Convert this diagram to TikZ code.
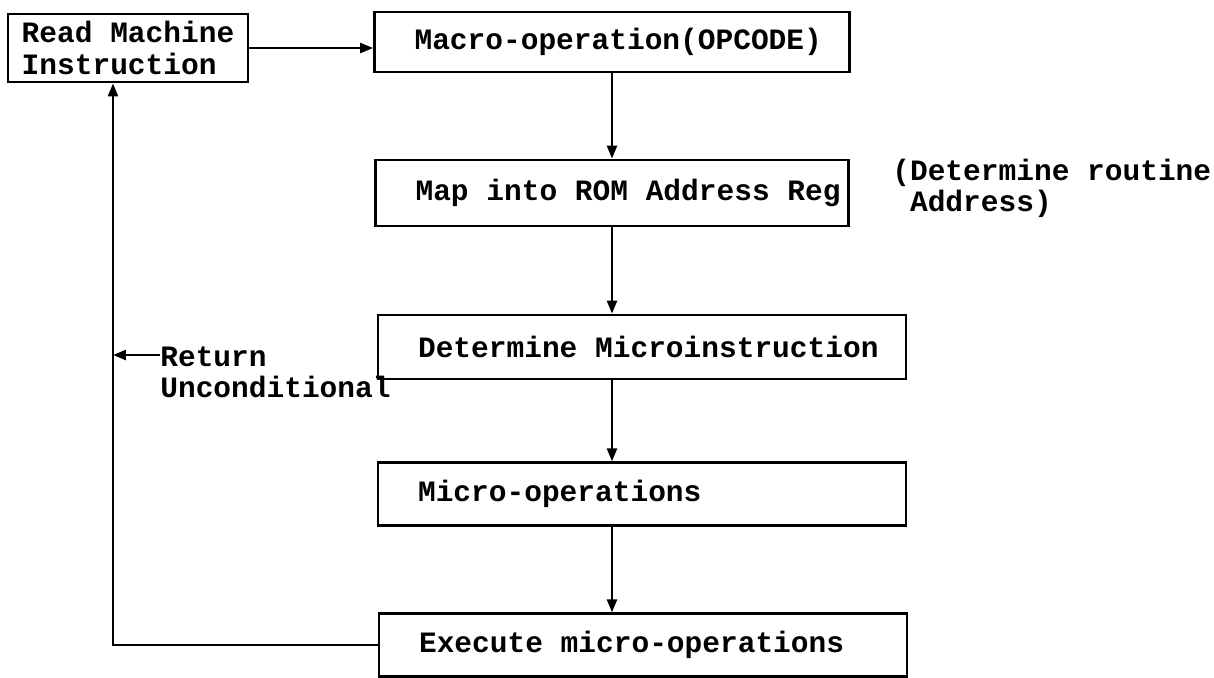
\documentclass[tikz,border=0pt]{standalone}
\usepackage{fontspec}
\setmonofont[WordSpace={1,0,0}]{Liberation Mono}
\usetikzlibrary{arrows.meta, positioning}

\begin{document}
\begin{tikzpicture}[x=0.02cm, y=-0.02cm,
  box/.style={draw, line width=1.6pt, minimum height=1.25cm, inner xsep=0.8cm,
              font=\ttfamily\bfseries\fontsize{16.8}{18.5}\selectfont, align=flush left},
  arrow/.style={-{Triangle[length=2.6mm, width=2mm]}, line width=1.4pt},
  note/.style={font=\ttfamily\bfseries\fontsize{16.8}{17.5}\selectfont, anchor=west,
               align=flush left, inner sep=0pt}
]
  \useasboundingbox (0,0) rectangle (1214,677);

  \node[box, inner xsep=0.2cm, minimum width=4.8cm, minimum height=1.36cm] (read) at (128,48) {Read Machine\\Instruction};
  \node[box, text width=7.9cm, minimum height=1.2cm] (macro) at (612,42) {Macro-operation(OPCODE)};
  \node[box, text width=7.86cm, minimum height=1.32cm] (map) at (612,193) {Map~into~ROM~Address~Reg};
  \node[box, text width=8.96cm, minimum height=1.28cm] (determine) at (642,347) {Determine~Microinstruction};
  \node[box, text width=8.96cm] (microops) at (642,494) {Micro-operations};
  \node[box, text width=8.96cm] (execute) at (643,645) {Execute micro-operations};

  \node[note] (routine) at (892,188) {(Determine routine\\\hphantom{(}Address)};
  \node[note] (ret) at (160,372) {Return\\Unconditional};

  \coordinate (loop) at (113,645);
  \coordinate (retpt) at (113,355);

  \draw[arrow] (read.east) -- (read.east -| macro.west);
  \draw[arrow] (macro.south) -- (map.north);
  \draw[arrow] (map.south) -- (map.south |- determine.north);
  \draw[arrow] (map.south |- determine.south) -- (map.south |- microops.north);
  \draw[arrow] (map.south |- microops.south) -- (map.south |- execute.north);
  \draw[arrow] (execute.west) -- (loop) -- (loop |- read.south);
  \draw[arrow] (ret.west |- retpt) -- (retpt);
\end{tikzpicture}
\end{document}
